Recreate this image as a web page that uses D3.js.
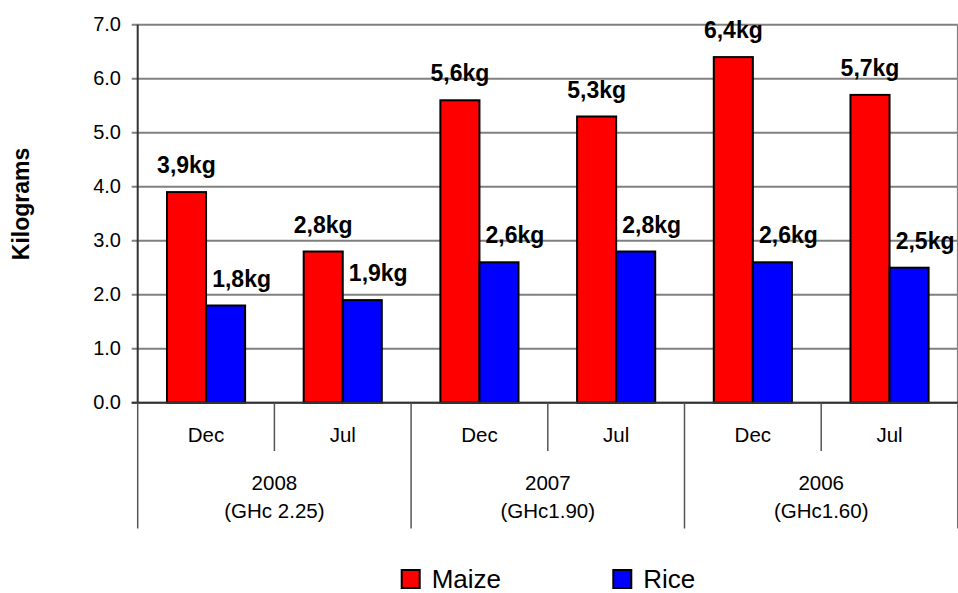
<!DOCTYPE html>
<html>
<head>
<meta charset="utf-8">
<script src="https://cdn.jsdelivr.net/npm/d3@7/dist/d3.min.js"></script>
<style>
  html, body { margin: 0; padding: 0; background: #fff; }
  svg { display: block; font-family: "Liberation Sans", Arial, sans-serif; }
</style>
</head>
<body>
<svg id="chart" width="958" height="593"></svg>
<script>
// Price of maize and rice: kilograms bought per period
const years = ["2008", "2007", "2006"];
const yearPrices = ["(GHc 2.25)", "(GHc1.90)", "(GHc1.60)"];
const months = ["Dec", "Jul"];
const seriesNames = ["Maize", "Rice"];
const seriesColors = ["#ff0000", "#0000ff"];
const maize = [3.9, 2.8, 5.6, 5.3, 6.4, 5.7];
const rice = [1.8, 1.9, 2.6, 2.8, 2.6, 2.5];
const yTicks = [0, 1, 2, 3, 4, 5, 6, 7];

// one slot per year/month pair
const slots = [];
years.forEach(yr => months.forEach(m => slots.push(yr + "-" + m)));
const rows = slots.map((key, i) => ({
  key,
  month: months[i % months.length],
  values: [
    { series: seriesNames[0], value: maize[i] },
    { series: seriesNames[1], value: rice[i] }
  ]
}));

const svg = d3.select("#chart");
const plotLeft = 137.7, plotRight = 957.9, plotTop = 24.7, plotBottom = 402.7;

const x = d3.scaleBand().domain(slots).range([plotLeft, plotRight]).paddingInner(0).paddingOuter(0);
const xs = d3.scaleBand().domain(seriesNames).range([0, x.bandwidth()])
  .paddingInner(0).paddingOuter(0.75);
const y = d3.scaleLinear().domain([0, 7]).range([plotBottom, plotTop]);
const color = d3.scaleOrdinal().domain(seriesNames).range(seriesColors);
const fmt = v => d3.format(".1f")(v).replace(".", ",") + "kg";

// gridlines and y ticks
svg.append("g").selectAll("line")
  .data(yTicks)
  .join("line")
  .attr("x1", plotLeft - 6).attr("x2", plotRight)
  .attr("y1", d => y(d)).attr("y2", d => y(d))
  .attr("stroke", "#808080").attr("stroke-width", 2);

svg.append("g").selectAll("text")
  .data(yTicks)
  .join("text")
  .attr("x", 121)
  .attr("y", d => y(d) + 6.5)
  .attr("text-anchor", "end")
  .attr("font-size", 20)
  .attr("fill", "#000")
  .text(d => d3.format(".1f")(d));

// right border of the plot area
svg.append("line")
  .attr("x1", plotRight).attr("x2", plotRight)
  .attr("y1", plotTop).attr("y2", plotBottom)
  .attr("stroke", "#808080").attr("stroke-width", 2);

// bars
const groups = svg.append("g").selectAll("g")
  .data(rows)
  .join("g")
  .attr("transform", d => `translate(${x(d.key)},0)`);

groups.selectAll("rect")
  .data(d => d.values)
  .join("rect")
  .attr("x", d => xs(d.series))
  .attr("y", d => y(d.value))
  .attr("width", xs.bandwidth())
  .attr("height", d => y(0) - y(d.value))
  .attr("fill", d => color(d.series))
  .attr("stroke", "#000")
  .attr("stroke-width", 2);

// value labels
groups.selectAll("text")
  .data(d => d.values)
  .join("text")
  .attr("x", d => xs(d.series) + xs.bandwidth() / 2 + (d.series === "Rice" ? 16 : 0))
  .attr("y", d => y(d.value) - 19)
  .attr("text-anchor", "middle")
  .attr("font-size", 23)
  .attr("font-weight", "bold")
  .attr("fill", "#000")
  .text(d => fmt(d.value));

// axis lines
svg.append("line")
  .attr("x1", plotLeft).attr("x2", plotLeft)
  .attr("y1", plotTop).attr("y2", plotBottom)
  .attr("stroke", "#333").attr("stroke-width", 2);
svg.append("line")
  .attr("x1", plotLeft - 6).attr("x2", plotRight)
  .attr("y1", plotBottom).attr("y2", plotBottom)
  .attr("stroke", "#333").attr("stroke-width", 2);

// category axis: month labels and dividers
const catG = svg.append("g");
catG.selectAll("text.month")
  .data(rows)
  .join("text")
  .attr("class", "month")
  .attr("x", d => x(d.key) + x.bandwidth() / 2)
  .attr("y", 441.5)
  .attr("text-anchor", "middle")
  .attr("font-size", 20.5)
  .attr("fill", "#000")
  .text(d => d.month);

// short dividers between months inside a year
catG.selectAll("line.inner")
  .data(years)
  .join("line")
  .attr("class", "inner")
  .attr("x1", (d, i) => x(slots[i * 2 + 1])).attr("x2", (d, i) => x(slots[i * 2 + 1]))
  .attr("y1", plotBottom).attr("y2", 451)
  .attr("stroke", "#555").attr("stroke-width", 1.5);

// long dividers between years
const yearEdges = years.map((d, i) => x(slots[i * 2])).concat([plotRight]);
catG.selectAll("line.outer")
  .data(yearEdges)
  .join("line")
  .attr("class", "outer")
  .attr("x1", d => d).attr("x2", d => d)
  .attr("y1", plotBottom).attr("y2", 528.5)
  .attr("stroke", "#555").attr("stroke-width", 1.5);

const yearG = catG.selectAll("g.year")
  .data(years)
  .join("g")
  .attr("class", "year")
  .attr("transform", (d, i) => `translate(${(yearEdges[i] + yearEdges[i + 1]) / 2},0)`);
yearG.append("text")
  .attr("y", 490)
  .attr("text-anchor", "middle")
  .attr("font-size", 20.5)
  .attr("fill", "#000")
  .text(d => d);
yearG.append("text")
  .attr("y", 518)
  .attr("text-anchor", "middle")
  .attr("font-size", 20.5)
  .attr("fill", "#000")
  .text((d, i) => yearPrices[i]);

// y axis title
svg.append("text")
  .attr("transform", "translate(28.5,204) rotate(-90)")
  .attr("text-anchor", "middle")
  .attr("font-size", 23)
  .attr("font-weight", "bold")
  .attr("fill", "#000")
  .text("Kilograms");

// legend
const legendX = [401.7, 613.3];
const legend = svg.append("g").selectAll("g")
  .data(seriesNames)
  .join("g")
  .attr("transform", (d, i) => `translate(${legendX[i]},570)`);
legend.append("rect")
  .attr("width", 18).attr("height", 18)
  .attr("fill", d => color(d))
  .attr("stroke", "#000").attr("stroke-width", 2);
legend.append("text")
  .attr("x", 30).attr("y", 17.5)
  .attr("font-size", 26)
  .attr("fill", "#000")
  .text(d => d);
</script>
</body>
</html>
